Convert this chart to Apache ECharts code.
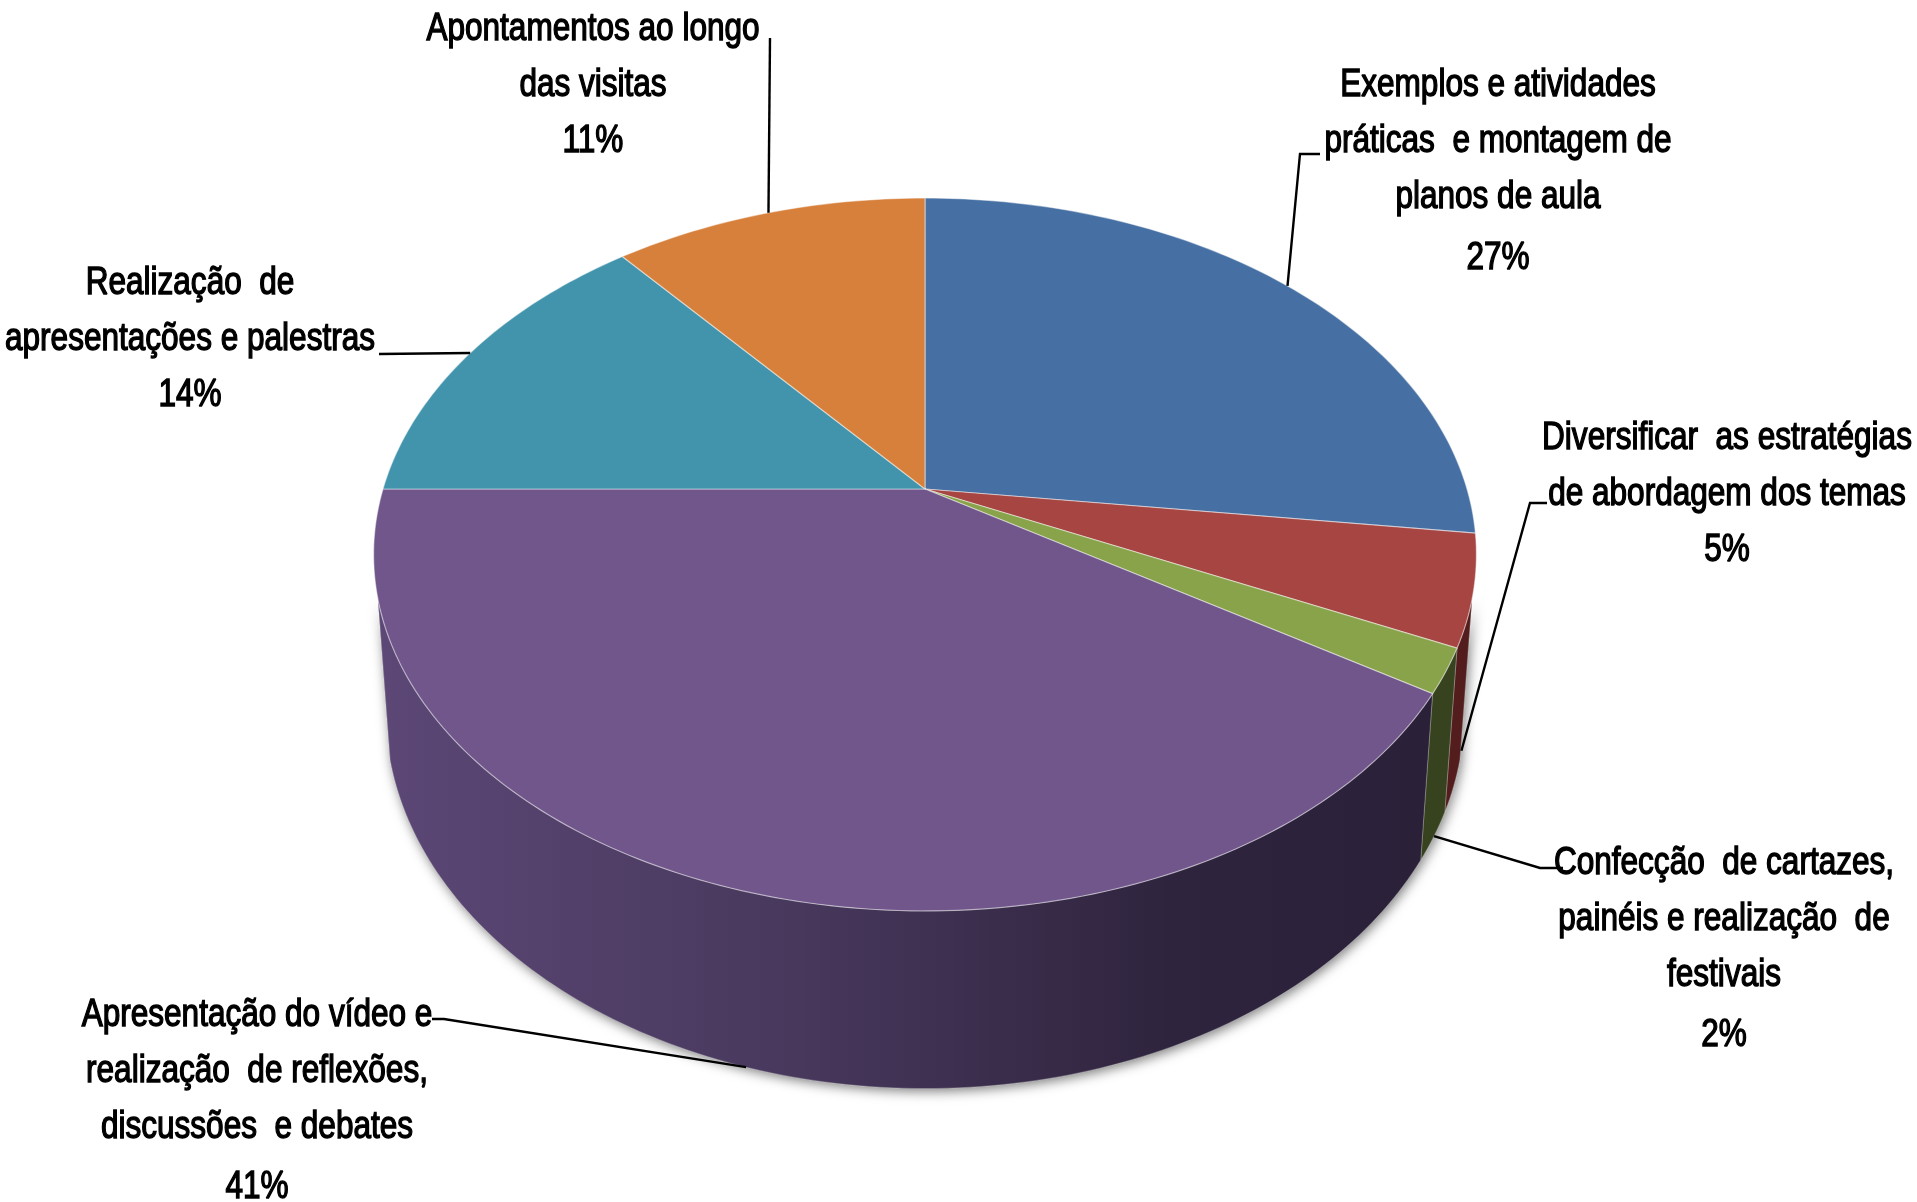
<!DOCTYPE html>
<html>
<head>
<meta charset="utf-8">
<script src="https://cdn.jsdelivr.net/npm/echarts@6/dist/echarts.min.js"></script>
<style>
html,body{margin:0;padding:0;background:#ffffff;}
#chart{width:1917px;height:1202px;}
</style>
</head>
<body>
<div id="chart"></div>
<script>
// ---------------- DATA ----------------
const categories = [
  'Exemplos e atividades\npráticas  e montagem de\nplanos de aula',
  'Diversificar  as estratégias\nde abordagem dos temas',
  'Confecção  de cartazes,\npainéis e realização  de\nfestivais',
  'Apresentação do vídeo e\nrealização  de reflexões,\ndiscussões  e debates',
  'Realização  de\napresentações e palestras',
  'Apontamentos ao longo\ndas visitas'
];
const values = [27, 5, 2, 41, 14, 11];

// ---------------- STYLE / LAYOUT ----------------
const topColors = ['#4670A3', '#A64542', '#89A34B', '#71568C', '#4194AC', '#D7803C'];
const sideColors = ['#2A4466', '#521D1C', '#37421F', null, '#27596A', '#7E4A22'];
const FONT_FAMILY = "'Liberation Sans', Arial, sans-serif";
const FONT_SIZE = 38;
const TEXT_SCALE_X = 0.83;
const LINE_H = 56;

// perspective pie geometry (pixels)
const CX = 925, CY = 489, SX = 542, SY = 551;
const ELEV_SIN = 0.625, ELEV_COS = 0.781, DIST = 4.25, THICK = 0.367;
const VERT_PERSP = 0.4;   // how strongly the height converges in perspective

// label placement: centre x, centre of first line y, leader route after the slice point
const labelLayout = [
  { x: 1498, y: 86,   pctGap: 61, route: [[1300, 154], [1320, 154]] },
  { x: 1727, y: 439,  pctGap: 56, route: [[1530, 503], [1547, 503]] },
  { x: 1724, y: 864,  pctGap: 60, route: [[1540, 868], [1563, 868]] },
  { x: 257,  y: 1016, pctGap: 60, route: [[444, 1019], [432, 1019]] },
  { x: 190,  y: 284,  pctGap: 56, route: [[379, 354]] },
  { x: 593,  y: 30,   pctGap: 56, route: [[770, 38]] }
];

// ---------------- GEOMETRY ----------------
const total = values.reduce((a, b) => a + b, 0);
const startAngles = [];
(function () {
  let acc = 0;
  values.forEach(v => { startAngles.push(acc / total * Math.PI * 2); acc += v; });
})();

function proj(x, y, z) {
  const v = y * ELEV_COS - z * ELEV_SIN;
  const w = y * ELEV_SIN * VERT_PERSP + z * ELEV_COS;
  const f = DIST / (DIST - w);
  return [CX + SX * x * f, CY - SY * v * f];
}
function rimPoint(theta, y) {
  return proj(Math.sin(theta), y, -Math.cos(theta));
}
function arc(a1, a2, y) {
  const pts = [];
  const n = Math.max(2, Math.ceil(Math.abs(a2 - a1) / (Math.PI / 180)));
  for (let k = 0; k <= n; k++) pts.push(rimPoint(a1 + (a2 - a1) * k / n, y));
  return pts;
}
// wall visible where outward normal faces the camera
const zVis = 1 / (DIST * ELEV_COS);
const visMin = Math.acos(-zVis), visMax = 2 * Math.PI - visMin;

function textEl(str, x, y) {
  return {
    type: 'text',
    z2: 11,
    x: x,
    y: y,
    scaleX: TEXT_SCALE_X,
    style: {
      text: str,
      x: 0,
      y: 0,
      align: 'center',
      verticalAlign: 'top',
      fontSize: FONT_SIZE,
      fontFamily: FONT_FAMILY,
      lineHeight: LINE_H,
      fill: '#000000',
      stroke: '#000000',
      lineWidth: 1.4
    }
  };
}

function renderItem(params, api) {
  const i = params.dataIndex;
  const v = api.value(0);
  const a1 = startAngles[i];
  const a2 = a1 + v / total * Math.PI * 2;
  const children = [];

  // outer wall (shadow drawn underneath all walls, then the wall itself)
  const w1 = Math.max(a1, visMin), w2 = Math.min(a2, visMax);
  if (w2 > w1) {
    const wallPts = arc(w1, w2, 0).concat(arc(w1, w2, -THICK).reverse());
    children.push({
      type: 'polygon',
      z2: 0,
      shape: { points: wallPts },
      style: {
        fill: '#777777',
        shadowBlur: 12,
        shadowColor: 'rgba(0,0,0,0.5)',
        shadowOffsetX: 2,
        shadowOffsetY: 3
      }
    });
    let fill;
    if (sideColors[i]) {
      fill = sideColors[i];
    } else {
      fill = new echarts.graphic.LinearGradient(0, 0, 1, 0, [
        { offset: 0, color: '#5C4776' },
        { offset: 0.4, color: '#47385C' },
        { offset: 0.75, color: '#2F243E' },
        { offset: 1, color: '#2A2038' }
      ]);
    }
    children.push({
      type: 'polygon',
      z2: 1,
      shape: { points: wallPts },
      style: { fill: fill, stroke: 'rgba(255,255,255,0.25)', lineWidth: 1 }
    });
  }

  // top face
  const apex = proj(0, 0, 0);
  children.push({
    type: 'polygon',
    z2: 2,
    shape: { points: [apex].concat(arc(a1, a2, 0)) },
    style: { fill: topColors[i], stroke: 'rgba(255,255,255,0.45)', lineWidth: 1.2 }
  });

  // leader line
  const mid = (a1 + a2) / 2;
  const front = -Math.cos(mid) > 0;
  const start = rimPoint(mid, front ? -THICK : 0);
  const lay = labelLayout[i];
  children.push({
    type: 'polyline',
    z2: 10,
    shape: { points: [start].concat(lay.route) },
    style: { stroke: '#000000', lineWidth: 2.4, fill: null }
  });

  // label text
  const name = categories[i];
  const nLines = name.split('\n').length;
  children.push(textEl(name, lay.x, lay.y - LINE_H / 2));
  const pct = Math.round(v / total * 100) + '%';
  children.push(textEl(pct, lay.x, lay.y + (nLines - 1) * LINE_H + lay.pctGap - LINE_H / 2));

  return { type: 'group', children: children };
}

const chart = echarts.init(document.getElementById('chart'), null, { renderer: 'canvas' });
chart.setOption({
  backgroundColor: '#ffffff',
  animation: false,
  series: [{
    type: 'custom',
    coordinateSystem: 'none',
    renderItem: renderItem,
    data: values.map((v, i) => ({ name: categories[i], value: [v] }))
  }]
});
</script>
</body>
</html>
